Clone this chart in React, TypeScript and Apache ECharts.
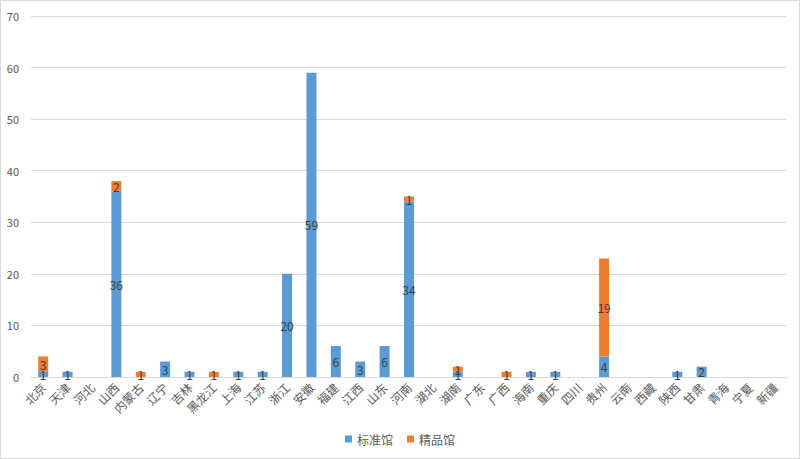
import React, { useEffect, useRef } from "react";
import * as echarts from "echarts";

const categories = ["北京", "天津", "河北", "山西", "内蒙古", "辽宁", "吉林", "黑龙江", "上海", "江苏", "浙江", "安徽", "福建", "江西", "山东", "河南", "湖北", "湖南", "广东", "广西", "海南", "重庆", "四川", "贵州", "云南", "西藏", "陕西", "甘肃", "青海", "宁夏", "新疆"];
const standardValues = [1, 1, 0, 36, 0, 3, 1, 0, 1, 1, 20, 59, 6, 3, 6, 34, 0, 1, 0, 0, 1, 1, 0, 4, 0, 0, 1, 2, 0, 0, 0];
const premiumValues = [3, 0, 0, 2, 1, 0, 0, 1, 0, 0, 0, 0, 0, 0, 0, 1, 0, 1, 0, 1, 0, 0, 0, 19, 0, 0, 0, 0, 0, 0, 0];
const seriesNames = ["标准馆", "精品馆"];

const font = "'Noto Sans CJK SC', 'Microsoft YaHei', sans-serif";

export default function App() {
  const ref = useRef<HTMLDivElement>(null);
  useEffect(() => {
    if (!ref.current) return;
    const chart = echarts.init(ref.current, null, { renderer: "svg" });
    const label = {
      show: true,
      position: "inside",
      color: "#404040",
      fontSize: 12,
      fontFamily: font,
      formatter: (p: any) => (p.value ? String(p.value) : ""),
    };
    chart.setOption({
      animation: false,
      textStyle: { fontFamily: font },
      grid: { left: 30, right: 12, top: 15, bottom: 81, containLabel: false },
      legend: {
        bottom: 8,
        left: "center",
        itemWidth: 7,
        itemHeight: 7,
        itemGap: 14,
        icon: "rect",
        textStyle: { color: "#595959", fontSize: 12, fontFamily: font },
        data: seriesNames,
      },
      xAxis: {
        type: "category",
        data: categories,
        axisLine: { lineStyle: { color: "#d9d9d9" } },
        axisTick: { show: false },
        axisLabel: { rotate: 45, color: "#595959", fontSize: 12, interval: 0, margin: 8, fontFamily: font },
      },
      yAxis: {
        type: "value",
        min: 0,
        max: 70,
        interval: 10,
        axisLine: { show: false },
        axisTick: { show: false },
        axisLabel: { color: "#595959", fontSize: 11, margin: 12, fontFamily: font },
        splitLine: { lineStyle: { color: "#d9d9d9" } },
      },
      series: [
        {
          name: seriesNames[0],
          type: "bar",
          stack: "total",
          data: standardValues,
          barWidth: 10,
          itemStyle: { color: "#5b9bd5" },
          label,
        },
        {
          name: seriesNames[1],
          type: "bar",
          stack: "total",
          data: premiumValues,
          barWidth: 10,
          itemStyle: { color: "#ed7d31" },
          label,
        },
      ],
    });
    return () => chart.dispose();
  }, []);
  return (
    <div
      ref={ref}
      style={{
        position: "absolute",
        left: 0,
        top: 0,
        width: 800,
        height: 459,
        boxSizing: "border-box",
        border: "1px solid #d9d9d9",
        background: "#fff",
      }}
    />
  );
}
